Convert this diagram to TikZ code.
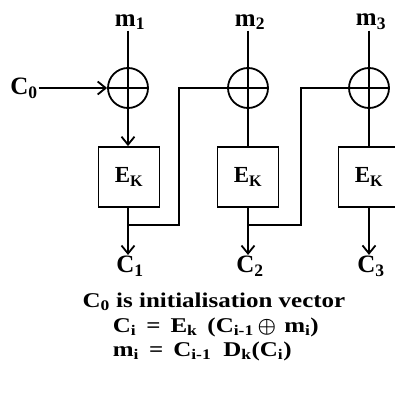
\documentclass[tikz,border=0pt]{standalone}
\usepackage{amsmath}
\usepackage{fontspec}
\setmainfont{Liberation Serif}
\newfontfamily\widefont[FakeStretch=1.19]{Liberation Serif}
\usetikzlibrary{arrows.meta}
\begin{document}
\begin{tikzpicture}[x=1pt,y=-1pt, line width=1.8pt,
  lbl/.style={font=\bfseries\fontsize{25}{27}\selectfont, inner sep=0pt},
  txt/.style={font=\widefont\bfseries\fontsize{21}{23}\selectfont, inner sep=0pt},
  xor/.style={circle, draw, minimum size=40pt, inner sep=0pt,
    path picture={\draw[line width=1.8pt] (path picture bounding box.north) -- (path picture bounding box.south)
      (path picture bounding box.west) -- (path picture bounding box.east);}},
  enc/.style={draw, minimum width=61pt, minimum height=60pt, inner sep=0pt,
    font=\bfseries\fontsize{23}{25}\selectfont},
  arr/.style={-{Straight Barb[length=8pt,width=13pt,line width=1.8pt]}}
]
\useasboundingbox (0,0) rectangle (395,396);

% inputs
\node[lbl] (m1) at (130,22) {m\textsubscript{1}};
\node[lbl] (m2) at (250,22) {m\textsubscript{2}};
\node[lbl] (m3) at (371,22) {m\textsubscript{3}};
\node[lbl] (c0) at (24,88) {C\textsubscript{0}};

% xor
\node[xor] (x1) at (128,88) {};
\node[xor] (x2) at (248,88) {};
\node[xor] (x3) at (369,88) {};

% encryption boxes
\node[enc] (e1) at (129,177) {E\textsubscript{K}};
\node[enc] (e2) at (248,177) {E\textsubscript{K}};
\node[enc] (e3) at (369,177) {E\textsubscript{K}};

% outputs
\node[lbl] (c1) at (130,266) {C\textsubscript{1}};
\node[lbl] (c2) at (250,266) {C\textsubscript{2}};
\node[lbl] (c3) at (371,266) {C\textsubscript{3}};

% feedback coordinates
\coordinate (f1b) at (128,225);
\coordinate (f1r) at (179,225);
\coordinate (f1t) at (179,88);
\coordinate (f2b) at (248,225);
\coordinate (f2r) at (301,225);
\coordinate (f2t) at (301,88);

% connectors
\draw (m1.south -| x1) -- (x1.north);
\draw (m2.south -| x2) -- (x2.north);
\draw (m3.south -| x3) -- (x3.north);
\draw[arr] (c0.east) -- (x1.west);
\draw[arr] (x1.south) -- (x1.south |- e1.north);
\draw (x2.south) -- (x2.south |- e2.north);
\draw (x3.south) -- (x3.south |- e3.north);
\draw[arr] (x1 |- e1.south) -- (x1 |- c1.north);
\draw[arr] (x2 |- e2.south) -- (x2 |- c2.north);
\draw[arr] (x3 |- e3.south) -- (x3 |- c3.north);
\draw (f1b) -- (f1r) -- (f1t) -- (x2.west);
\draw (f2b) -- (f2r) -- (f2t) -- (x3.west);

% text
\node[txt] (t1) at (214,302) {C\textsubscript{0} is initialisation vector};
\node[txt, anchor=west] (t2) at (112,327) {C\textsubscript{i}\hspace{10pt}=\hspace{10pt}E\textsubscript{k}\hspace{10pt}(C\textsubscript{i-1}\hspace{4pt}$\boldsymbol{\oplus}$\hspace{8pt}m\textsubscript{i})};
\node[txt, anchor=west] (t3) at (112,351) {m\textsubscript{i}\hspace{10pt}=\hspace{10pt}C\textsubscript{i-1}\hspace{12pt}D\textsubscript{k}(C\textsubscript{i})};
\end{tikzpicture}
\end{document}
